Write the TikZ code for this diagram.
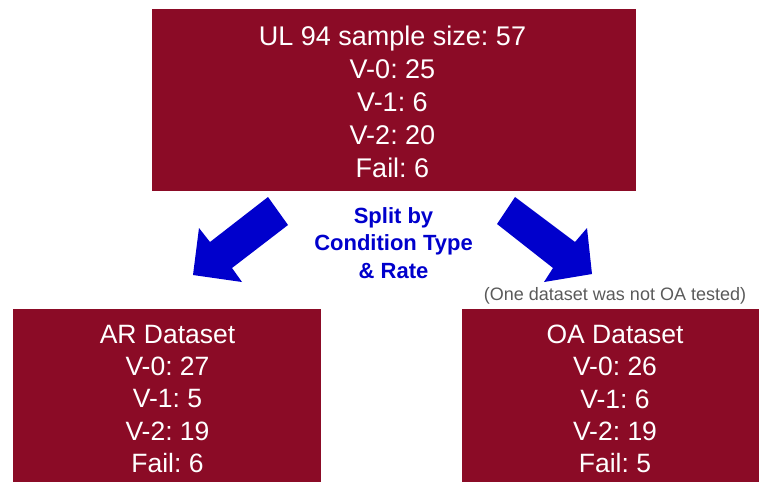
\documentclass[tikz,border=0pt]{standalone}
\usepackage{fontspec}
\setmainfont{Liberation Sans}
\frenchspacing
\definecolor{boxred}{RGB}{139,11,38}
\definecolor{arrowblue}{RGB}{0,0,204}
\definecolor{notegray}{RGB}{90,90,90}
\begin{document}
\frenchspacing
\begin{tikzpicture}[x=1pt,y=-1pt,
  box/.style={fill=boxred, draw=none, inner sep=0pt, outer sep=0pt},
  toptext/.style={text=white, align=center, inner sep=0pt, font=\frenchspacing\fontsize{27}{33}\selectfont},
  subtext/.style={text=white, align=center, inner sep=0pt, font=\frenchspacing\fontsize{26.5}{32.25}\selectfont},
  splittext/.style={text=arrowblue, align=center, inner sep=0pt, font=\frenchspacing\bfseries\fontsize{22}{27.5}\selectfont},
  notetext/.style={text=notegray, inner sep=0pt, font=\frenchspacing\fontsize{18}{22}\selectfont},
  bigarrow/.style={fill=arrowblue, draw=none}]
\useasboundingbox (0,0) rectangle (759,482);

% boxes
\node[box, minimum width=484, minimum height=182] (top) at (394,100) {};
\node[toptext] (toplbl) at (392.5,101.5) {UL 94 sample size: 57\\V-0: 25\\V-1: 6\\V-2: 20\\Fail: 6};

\node[box, minimum width=308, minimum height=173] (ar) at (167,395.5) {};
\node[subtext] (arlbl) at (167.5,399) {AR Dataset\\V-0: 27\\V-1: 5\\V-2: 19\\Fail: 6};

\node[box, minimum width=297, minimum height=173] (oa) at (610.5,395.5) {};
\node[subtext] (oalbl) at (615,399) {OA Dataset\\V-0: 26\\V-1: 6\\V-2: 19\\Fail: 5};

% split label
\node[splittext] (split) at (393.5,243) {Split by\\Condition Type\\\& Rate};

% note
\node[notetext] (note) at (615,296) {(One dataset was not OA tested)};

% left block arrow
\coordinate (la1) at (268,197);
\coordinate (la2) at (288,225);
\coordinate (la3) at (232,268);
\coordinate (la4) at (242,282);
\coordinate (la5) at (193,275);
\coordinate (la6) at (199,228);
\coordinate (la7) at (210,242);
\fill[bigarrow] (la1) -- (la2) -- (la3) -- (la4) -- (la5) -- (la6) -- (la7) -- cycle;

% right block arrow
\coordinate (ra1) at (515,197);
\coordinate (ra2) at (497,224);
\coordinate (ra3) at (553,268);
\coordinate (ra4) at (544,282);
\coordinate (ra5) at (592,274);
\coordinate (ra6) at (587,228);
\coordinate (ra7) at (575,242);
\fill[bigarrow] (ra1) -- (ra2) -- (ra3) -- (ra4) -- (ra5) -- (ra6) -- (ra7) -- cycle;
\end{tikzpicture}
\end{document}
